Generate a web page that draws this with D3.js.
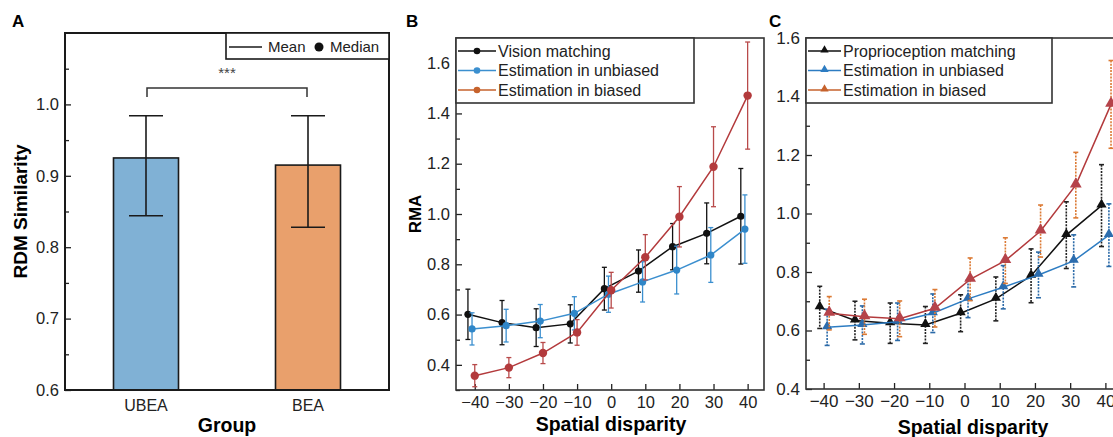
<!DOCTYPE html>
<html>
<head>
<meta charset="utf-8">
<script src="https://cdn.jsdelivr.net/npm/d3@7"></script>
<style>
  body { margin: 0; background: #fff; }
  svg { display: block; font-family: "Liberation Sans", Arial, sans-serif; }
</style>
</head>
<body>
<div id="chart"></div>
<script>
// ---- panel A data ----
const groups = ["UBEA", "BEA"];
const simMean = [0.925, 0.915];
const simHi = [0.984, 0.984];
const simLo = [0.844, 0.828];
const simTicks = [0.6, 0.7, 0.8, 0.9, 1.0];

// ---- panels B / C data ----
const disparity = [-40, -30, -20, -10, 0, 10, 20, 30, 40];
const dispTicks = [-40, -30, -20, -10, 0, 10, 20, 30, 40];

const visionMatch = [0.601, 0.568, 0.548, 0.563, 0.703, 0.773, 0.870, 0.923, 0.991];
const visionMatchSd = [0.100, 0.088, 0.075, 0.076, 0.085, 0.084, 0.092, 0.121, 0.190];
const unbiasedB = [0.543, 0.556, 0.574, 0.605, 0.681, 0.730, 0.777, 0.837, 0.940];
const unbiasedBSd = [0.064, 0.065, 0.066, 0.066, 0.072, 0.080, 0.095, 0.109, 0.136];
const biasedB = [0.357, 0.389, 0.447, 0.529, 0.697, 0.828, 0.989, 1.188, 1.471];
const biasedBSd = [0.044, 0.040, 0.042, 0.051, 0.071, 0.090, 0.120, 0.159, 0.213];

const propMatch = [0.679, 0.634, 0.625, 0.619, 0.659, 0.708, 0.787, 0.926, 1.027];
const propMatchSd = [0.072, 0.066, 0.069, 0.063, 0.063, 0.075, 0.092, 0.114, 0.140];
const unbiasedC = [0.611, 0.619, 0.630, 0.659, 0.708, 0.748, 0.790, 0.838, 0.926];
const unbiasedCSd = [0.062, 0.065, 0.064, 0.066, 0.064, 0.074, 0.078, 0.089, 0.107];
const biasedC = [0.659, 0.647, 0.640, 0.676, 0.775, 0.839, 0.940, 1.097, 1.373];
const biasedCSd = [0.057, 0.060, 0.061, 0.064, 0.073, 0.078, 0.089, 0.112, 0.150];

const rmaTicksB = [0.4, 0.6, 0.8, 1.0, 1.2, 1.4, 1.6];
const rmaTicksC = [0.4, 0.6, 0.8, 1.0, 1.2, 1.4, 1.6];

const W = 1113, H = 437;
const svg = d3.select("#chart").append("svg").attr("width", W).attr("height", H);

const fmt = d3.format(".1f");

function inwardYAxis(g, y, major, minor, x0, fs) {
  g.append("g")
    .attr("transform", `translate(${x0},0)`)
    .call(d3.axisLeft(y).tickValues(major).tickFormat(fmt).tickSize(-6).tickPadding(6))
    .call(a => a.select(".domain").remove())
    .call(a => a.selectAll("text").attr("font-size", fs).attr("fill", "#222"))
    .call(a => a.selectAll("line").attr("stroke", "#222").attr("stroke-width", 1.3));
  g.append("g")
    .attr("transform", `translate(${x0},0)`)
    .call(d3.axisLeft(y).tickValues(minor).tickFormat("").tickSize(-4))
    .call(a => a.select(".domain").remove())
    .call(a => a.selectAll("line").attr("stroke", "#222").attr("stroke-width", 1.3));
}

// ================= Panel A =================
(() => {
  const x0 = 65, x1 = 389, y0 = 33, y1 = 390;
  const g = svg.append("g");
  const x = d3.scalePoint().domain(groups).range([x0, x1]).padding(0.5);
  const y = d3.scaleLinear().domain([0.6, 1.1]).range([y1, y0]);
  const barW = 65;
  const fills = ["#80b1d5", "#e9a06c"];

  g.selectAll("rect.bar").data(groups).join("rect")
    .attr("x", d => x(d) - barW / 2)
    .attr("y", (d, i) => y(simMean[i]))
    .attr("width", barW)
    .attr("height", (d, i) => y1 - y(simMean[i]))
    .attr("fill", (d, i) => fills[i])
    .attr("stroke", "#1a1a1a").attr("stroke-width", 1.6);

  groups.forEach((d, i) => {
    const cx = x(d);
    const e = g.append("g").attr("stroke", "#1a1a1a").attr("stroke-width", 1.6);
    e.append("line").attr("x1", cx).attr("x2", cx).attr("y1", y(simHi[i])).attr("y2", y(simLo[i]));
    e.append("line").attr("x1", cx - 17).attr("x2", cx + 17).attr("y1", y(simHi[i])).attr("y2", y(simHi[i]));
    e.append("line").attr("x1", cx - 17).attr("x2", cx + 17).attr("y1", y(simLo[i])).attr("y2", y(simLo[i]));
  });

  // significance bracket
  const bx0 = x(groups[0]) + 1, bx1 = x(groups[1]) - 1, by = 88;
  g.append("path")
    .attr("d", `M${bx0},${by + 9}V${by}H${bx1}V${by + 9}`)
    .attr("fill", "none").attr("stroke", "#333").attr("stroke-width", 1.5);
  g.append("text").attr("x", (bx0 + bx1) / 2).attr("y", 78)
    .attr("text-anchor", "middle").attr("font-size", 15).attr("fill", "#444").text("***");

  inwardYAxis(g, y, simTicks, [0.65, 0.75, 0.85, 0.95, 1.05], x0, 16.5);

  g.append("rect").attr("x", x0).attr("y", y0).attr("width", x1 - x0).attr("height", y1 - y0)
    .attr("fill", "none").attr("stroke", "#1a1a1a").attr("stroke-width", 2);

  // x labels
  g.selectAll("text.cat").data(groups).join("text")
    .attr("x", d => x(d)).attr("y", 411)
    .attr("text-anchor", "middle").attr("font-size", 16).attr("fill", "#222").text(d => d);

  // legend
  const lg = g.append("g");
  lg.append("rect").attr("x", 226).attr("y", y0).attr("width", x1 - 226).attr("height", 26)
    .attr("fill", "#fff").attr("stroke", "#1a1a1a").attr("stroke-width", 1.6);
  lg.append("line").attr("x1", 229).attr("x2", 262).attr("y1", 47).attr("y2", 47)
    .attr("stroke", "#1a1a1a").attr("stroke-width", 1.5);
  lg.append("text").attr("x", 268).attr("y", 52).attr("font-size", 15).attr("fill", "#222").text("Mean");
  lg.append("circle").attr("cx", 319).attr("cy", 47).attr("r", 4.5).attr("fill", "#111");
  lg.append("text").attr("x", 330).attr("y", 52).attr("font-size", 15).attr("fill", "#222").text("Median");

  g.append("text").attr("x", 12).attr("y", 27).attr("font-size", 17).attr("font-weight", "bold").text("A");
  g.append("text").attr("transform", `translate(27,${(y0 + y1) / 2}) rotate(-90)`)
    .attr("text-anchor", "middle").attr("font-size", 19).attr("font-weight", "bold").text("RDM Similarity");
  g.append("text").attr("x", (x0 + x1) / 2).attr("y", 432)
    .attr("text-anchor", "middle").attr("font-size", 19.5).attr("font-weight", "bold").text("Group");
})();

// ================= line panels =================
function linePanel(opt) {
  const { x0, x1, y0, y1, ydom, yticks, yminor, series, legend, label, labelX, ylabel, marker, dashedErr, fs } = opt;
  const g = svg.append("g");
  const x = d3.scaleLinear().domain(opt.xdom).range([x0, x1]);
  const y = d3.scaleLinear().domain(ydom).range([y1, y0]);

  inwardYAxis(g, y, yticks, yminor, x0, fs);

  g.append("g").attr("transform", `translate(0,${y1})`)
    .call(d3.axisBottom(x).tickValues(dispTicks).tickSize(-6).tickPadding(6))
    .call(a => a.select(".domain").remove())
    .call(a => a.selectAll("text").attr("font-size", fs).attr("fill", "#222"))
    .call(a => a.selectAll("line").attr("stroke", "#222").attr("stroke-width", 1.3));

  const line = d3.line().x(d => x(d[0])).y(d => y(d[1]));

  series.forEach(s => {
    const pts = disparity.map((d, i) => [d + s.shift, s.values[i], s.sd[i]]);
    const eg = g.append("g").attr("stroke", s.errColor).attr("stroke-width", dashedErr ? 1.6 : 1.3);
    pts.forEach(p => {
      const cx = x(p[0]);
      eg.append("line").attr("x1", cx).attr("x2", cx).attr("y1", y(p[1] + p[2])).attr("y2", y(p[1] - p[2]))
        .attr("stroke-dasharray", dashedErr ? "2,1.2" : null);
      eg.append("line").attr("x1", cx - 2.5).attr("x2", cx + 2.5).attr("y1", y(p[1] + p[2])).attr("y2", y(p[1] + p[2]));
      eg.append("line").attr("x1", cx - 2.5).attr("x2", cx + 2.5).attr("y1", y(p[1] - p[2])).attr("y2", y(p[1] - p[2]));
    });
    g.append("path").datum(pts).attr("d", line)
      .attr("fill", "none").attr("stroke", s.color).attr("stroke-width", 1.5);
    if (marker === "circle") {
      g.selectAll(null).data(pts).join("circle")
        .attr("cx", p => x(p[0])).attr("cy", p => y(p[1])).attr("r", s.r).attr("fill", s.mark);
    } else {
      g.selectAll(null).data(pts).join("path")
        .attr("transform", p => `translate(${x(p[0])},${y(p[1]) - 1})`)
        .attr("d", d3.symbol(d3.symbolTriangle, s.size)).attr("fill", s.mark);
    }
  });

  // frame
  g.append("rect").attr("x", x0).attr("y", y0).attr("width", x1 - x0).attr("height", y1 - y0)
    .attr("fill", "none").attr("stroke", "#333").attr("stroke-width", 1.6);

  // legend
  const lg = g.append("g");
  lg.append("rect").attr("x", x0).attr("y", y0).attr("width", legend.w).attr("height", 65)
    .attr("fill", "#fff").attr("stroke", "#333").attr("stroke-width", 1.6);
  series.forEach((s, i) => {
    const ly = y0 + 13 + i * 19.5;
    lg.append("line").attr("x1", x0 + 2).attr("x2", x0 + legend.lw).attr("y1", ly).attr("y2", ly)
      .attr("stroke", s.legColor).attr("stroke-width", 1.5);
    if (marker === "circle") {
      lg.append("circle").attr("cx", x0 + legend.lw / 2 + 1).attr("cy", ly).attr("r", 3.3).attr("fill", s.legColor);
    } else {
      lg.append("path").attr("transform", `translate(${x0 + legend.lw / 2 + 1},${ly - 1})`)
        .attr("d", d3.symbol(d3.symbolTriangle, 30)).attr("fill", s.legColor);
    }
    lg.append("text").attr("x", x0 + legend.lw + 2).attr("y", ly + 5.5)
      .attr("font-size", 16).attr("fill", "#222").text(s.name);
  });

  g.append("text").attr("x", labelX).attr("y", 27).attr("font-size", 17).attr("font-weight", "bold").text(label);
  if (ylabel) {
    g.append("text").attr("transform", `translate(${x0 - 35},${(y0 + y1) / 2}) rotate(-90)`)
      .attr("text-anchor", "middle").attr("font-size", 17).attr("font-weight", "bold").text(ylabel);
  }
  g.append("text").attr("x", opt.titleX).attr("y", opt.titleY)
    .attr("text-anchor", "middle").attr("font-size", 19.5).attr("font-weight", "bold").text("Spatial disparity");
}

linePanel({
  x0: 456, x1: 764, y0: 38, y1: 390, xdom: [-45.5, 44.8], fs: 16.5,
  ydom: [0.3, 1.7], yticks: rmaTicksB, yminor: [0.3, 0.5, 0.7, 0.9, 1.1, 1.3, 1.5],
  marker: "circle", dashedErr: false,
  label: "B", labelX: 406, ylabel: "RMA", titleX: 611, titleY: 431,
  legend: { w: 238, lw: 40 },
  series: [
    { name: "Vision matching", values: visionMatch, sd: visionMatchSd, shift: -2,
      color: "#111", mark: "#111", errColor: "#111", legColor: "#111", r: 3.6 },
    { name: "Estimation in unbiased", values: unbiasedB, sd: unbiasedBSd, shift: -0.8,
      color: "#3b8fcf", mark: "#2f86c8", errColor: "#3b8fcf", legColor: "#3b8fcf", r: 3.6 },
    { name: "Estimation in biased", values: biasedB, sd: biasedBSd, shift: 0,
      color: "#b33a3c", mark: "#b33a3c", errColor: "#b84a4a", legColor: "#c6622c", r: 4.2 }
  ]
});

linePanel({
  x0: 806, x1: 1123, y0: 38, y1: 389, xdom: [-45, 45], fs: 17,
  ydom: [0.4, 1.6], yticks: rmaTicksC, yminor: [0.5, 0.7, 0.9, 1.1, 1.3, 1.5],
  marker: "triangle", dashedErr: true,
  label: "C", labelX: 769, ylabel: null, titleX: 973, titleY: 434,
  legend: { w: 246, lw: 35 },
  series: [
    { name: "Proprioception matching", values: propMatch, sd: propMatchSd, shift: -1.1,
      color: "#111", mark: "#111", errColor: "#222", legColor: "#111", size: 45 },
    { name: "Estimation in unbiased", values: unbiasedC, sd: unbiasedCSd, shift: 1,
      color: "#2d7cc2", mark: "#2b6cae", errColor: "#2b6aa8", legColor: "#2d7cc2", size: 45 },
    { name: "Estimation in biased", values: biasedC, sd: biasedCSd, shift: 1.6,
      color: "#b33a3c", mark: "#b5434a", errColor: "#dc7a34", legColor: "#c6622c", size: 60 }
  ]
});
</script>
</body>
</html>
